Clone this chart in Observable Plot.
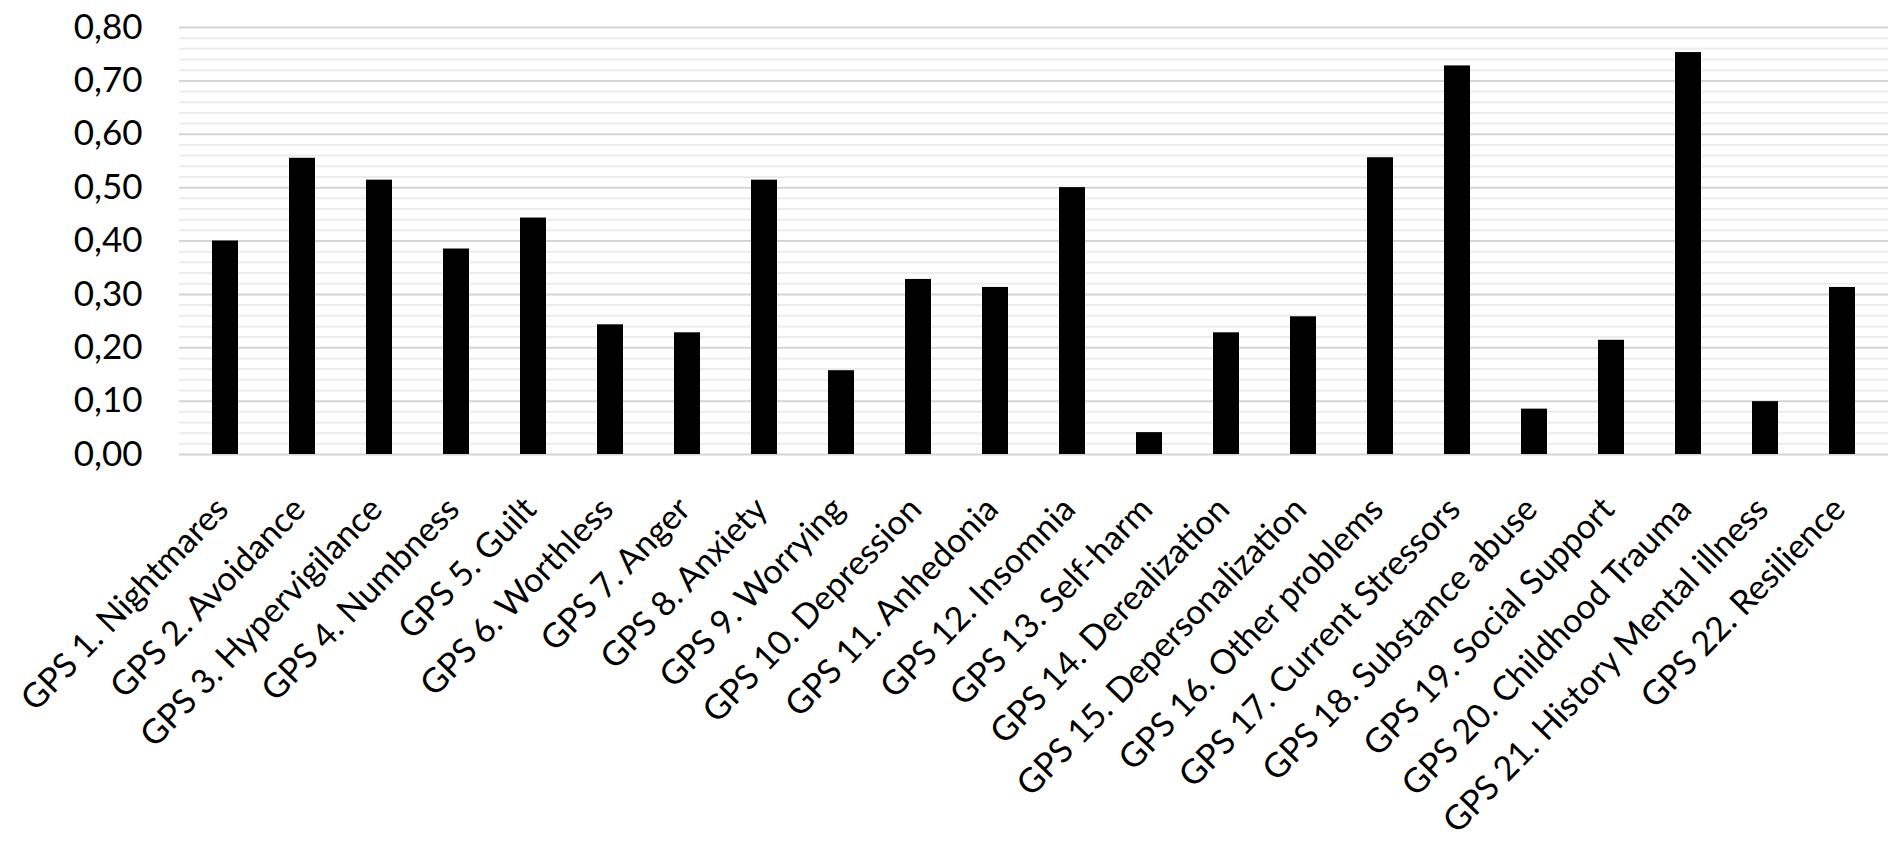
<!DOCTYPE html>
<html><head><meta charset="utf-8">
<script src="https://cdn.jsdelivr.net/npm/d3@7"></script>
<script src="https://cdn.jsdelivr.net/npm/@observablehq/plot@0.6"></script>
<style>body{margin:0;background:#fff}</style>
</head><body><div id="chart"></div>
<script>
const categories = [
  "GPS 1. Nightmares", "GPS 2. Avoidance", "GPS 3. Hypervigilance", "GPS 4. Numbness",
  "GPS 5. Guilt", "GPS 6. Worthless", "GPS 7. Anger", "GPS 8. Anxiety", "GPS 9. Worrying",
  "GPS 10. Depression", "GPS 11. Anhedonia", "GPS 12. Insomnia", "GPS 13. Self-harm",
  "GPS 14. Derealization", "GPS 15. Depersonalization", "GPS 16. Other problems",
  "GPS 17. Current Stressors", "GPS 18. Substance abuse", "GPS 19. Social Support",
  "GPS 20. Childhood Trauma", "GPS 21. History Mental illness", "GPS 22. Resilience"
];
const values = [
  0.40, 0.555, 0.514, 0.385, 0.443, 0.243, 0.228, 0.514, 0.157, 0.328, 0.313,
  0.500, 0.041, 0.228, 0.258, 0.556, 0.728, 0.085, 0.214, 0.753, 0.099, 0.313
];
const yTicks = [0, 0.1, 0.2, 0.3, 0.4, 0.5, 0.6, 0.7, 0.8];
const minorTicks = [
  0.02, 0.04, 0.06, 0.08, 0.12, 0.14, 0.16, 0.18, 0.22, 0.24, 0.26, 0.28,
  0.32, 0.34, 0.36, 0.38, 0.42, 0.44, 0.46, 0.48, 0.52, 0.54, 0.56, 0.58,
  0.62, 0.64, 0.66, 0.68, 0.72, 0.74, 0.76, 0.78
];

const data = categories.map((c, i) => ({cat: c, value: values[i]}));
const fmt = v => v.toFixed(2).replace(".", ",");

const chart = Plot.plot({
  width: 1902, height: 847,
  marginLeft: 179, marginRight: 14, marginTop: 27, marginBottom: 393,
  x: {domain: categories, paddingInner: 0.66, paddingOuter: 0.33, label: null},
  y: {domain: [0, 0.8], label: null},
  style: {fontFamily: "Lato, 'Open Sans', sans-serif", background: "#fff", color: "#000"},
  marks: [
    Plot.ruleY(minorTicks, {stroke: "#ececec", strokeWidth: 2}),
    Plot.ruleY(yTicks, {stroke: "#d4d4d4", strokeWidth: 2}),
    Plot.barY(data, {x: "cat", y: "value", fill: "#000"}),
    Plot.axisY({ticks: yTicks, tickFormat: fmt, tickSize: 0, tickPadding: 37, fontSize: 35, label: null}),
    Plot.axisX({tickRotate: -46, tickSize: 0, tickPadding: 49, dx: -3, fontSize: 34, label: null})
  ]
});
document.getElementById("chart").append(chart);
</script>
</body></html>
